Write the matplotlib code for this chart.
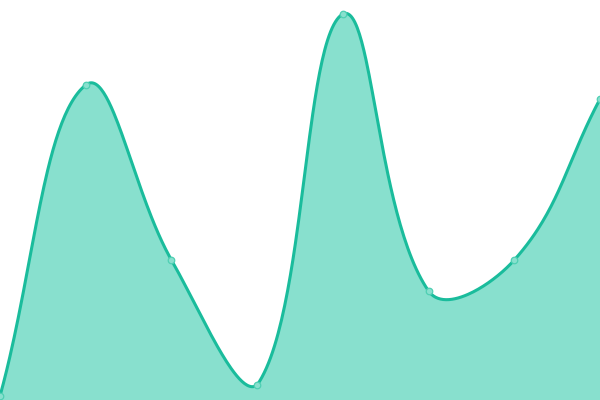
import numpy as np
import matplotlib.pyplot as plt

# data
x_vals = [0, 1, 2, 3, 4, 5, 6, 7]
y_vals = [4, 315, 140, 15, 386, 109, 140, 301]

line_color = '#1abc9c'
fill_color = '#88e0ce'

W, H = 600, 400
x_max, y_max = 7, 400


# chart.js style spline (tension 0.4), control points worked out in pixels
def smooth(xs, ys, tension=0.4, n=60):
    px = np.asarray(xs, float) * W / x_max
    py = np.asarray(ys, float) * H / y_max
    pts = np.column_stack([px, py])
    k = len(pts)
    ctrl_prev = pts.copy()
    ctrl_next = pts.copy()
    for i in range(k):
        prev = pts[max(i - 1, 0)]
        cur = pts[i]
        nxt = pts[min(i + 1, k - 1)]
        d01 = np.hypot(*(cur - prev))
        d12 = np.hypot(*(nxt - cur))
        tot = d01 + d12
        s01 = d01 / tot if tot else 0
        s12 = d12 / tot if tot else 0
        ctrl_prev[i] = cur - tension * s01 * (nxt - prev)
        ctrl_next[i] = cur + tension * s12 * (nxt - prev)
    # keep control points inside the plot area
    for c in (ctrl_prev, ctrl_next):
        c[:, 0] = np.clip(c[:, 0], 0, W)
        c[:, 1] = np.clip(c[:, 1], 0, H)
    t = np.linspace(0, 1, n)[:, None]
    out = []
    for i in range(k - 1):
        p1, p2 = pts[i], pts[i + 1]
        c1, c2 = ctrl_next[i], ctrl_prev[i + 1]
        out.append((1-t)**3*p1 + 3*(1-t)**2*t*c1 + 3*(1-t)*t**2*c2 + t**3*p2)
    out = np.concatenate(out)
    return out[:, 0] * x_max / W, out[:, 1] * y_max / H


sx, sy = smooth(x_vals, y_vals)

fig = plt.figure(figsize=(6, 4), dpi=100)
ax = fig.add_axes([0, 0, 1, 1])
ax.fill_between(sx, 0, sy, color=fill_color, lw=0)
ax.plot(sx, sy, color=line_color, lw=2.2, solid_capstyle='round')
ax.scatter(x_vals, y_vals, s=22, facecolor=fill_color, edgecolor='#4fcfb3',
           linewidth=0.9, zorder=3, clip_on=True)
ax.set_xlim(0, x_max)
ax.set_ylim(0, y_max)
ax.axis('off')
fig.savefig('out.png', dpi=100)
